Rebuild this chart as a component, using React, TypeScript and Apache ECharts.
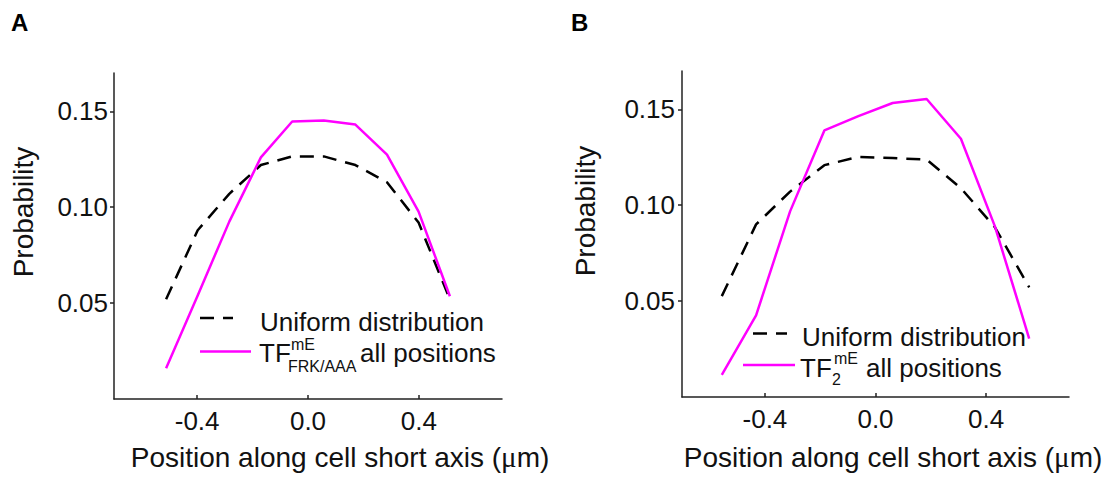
import React, { useEffect, useRef } from "react";
import * as echarts from "echarts";

// Panel A
const positionsA = [-0.512, -0.398, -0.284, -0.17, -0.057, 0.057, 0.171, 0.285, 0.399, 0.512];
const uniformA = [0.052, 0.088, 0.107, 0.122, 0.1265, 0.1265, 0.122, 0.113, 0.092, 0.052];
const tfA = [0.016, 0.054, 0.0925, 0.126, 0.1447, 0.1452, 0.1431, 0.1274, 0.0977, 0.0536];

// Panel B
const positionsB = [-0.556, -0.432, -0.309, -0.185, -0.062, 0.062, 0.185, 0.309, 0.432, 0.556];
const uniformB = [0.0526, 0.09, 0.1071, 0.1209, 0.1252, 0.1246, 0.1238, 0.1089, 0.0885, 0.0572];
const tfB = [0.0116, 0.0426, 0.0968, 0.139, 0.1465, 0.1533, 0.1554, 0.1347, 0.089, 0.0305];

const xTicks = [-0.4, 0, 0.4];
const yTicks = [0.05, 0.1, 0.15];

const FONT = "'Liberation Sans', Arial, Helvetica, sans-serif";
const MAGENTA = "#ff00ff";
const AXIS = "#222";
const TEXT = "#111";
const DASH = [14, 9];

const pairs = (xs: number[], ys: number[]) => xs.map((x, i) => [x, ys[i]]);

function xAxisFor(gridIndex: number) {
  return {
    type: "value",
    gridIndex,
    min: -0.7,
    max: 0.7,
    axisLine: { onZero: false, lineStyle: { color: AXIS, width: 1.5 } },
    axisTick: { inside: true, length: 4, customValues: xTicks, lineStyle: { color: AXIS, width: 1.5 } },
    axisLabel: {
      customValues: xTicks,
      formatter: (v: number) => v.toFixed(1),
      fontSize: 26,
      color: TEXT,
      fontFamily: FONT,
      margin: 9,
    },
    splitLine: { show: false },
  };
}

function yAxisFor(gridIndex: number, margin: number) {
  return {
    type: "value",
    gridIndex,
    min: 0,
    max: 0.17,
    axisLine: { show: true, onZero: false, lineStyle: { color: AXIS, width: 1.5 } },
    axisTick: { show: true, inside: false, length: 4, customValues: yTicks, lineStyle: { color: AXIS, width: 1.5 } },
    axisLabel: {
      customValues: yTicks,
      formatter: (v: number) => v.toFixed(2),
      fontSize: 26,
      color: TEXT,
      fontFamily: FONT,
      margin,
    },
    splitLine: { show: false },
  };
}

function txt(x: number, y: number, text: string, size: number, extra: any = {}) {
  return {
    type: "text",
    x,
    y,
    silent: true,
    style: {
      text,
      fontSize: size,
      fontFamily: FONT,
      fill: TEXT,
      align: "left",
      verticalAlign: "middle",
      ...extra,
    },
  };
}

function hline(x1: number, x2: number, y: number, color: string, dash?: number[]) {
  return {
    type: "line",
    silent: true,
    shape: { x1, y1: y, x2, y2: y },
    style: { stroke: color, lineWidth: 2.5, lineDash: dash || null },
  };
}

function xTitle(cx: number, cy: number) {
  return {
    type: "text",
    x: cx,
    y: cy,
    silent: true,
    style: {
      text: "{a|Position along cell short axis (}{m|\u03BC}{a|m)}",
      align: "center",
      verticalAlign: "middle",
      rich: {
        a: { fontSize: 28, fontFamily: FONT, fill: TEXT },
        m: { fontSize: 29, fontFamily: "'Liberation Serif', 'DejaVu Serif', serif", fill: TEXT },
      },
    },
  };
}

function yTitle(cx: number, cy: number) {
  return {
    type: "text",
    x: cx,
    y: cy,
    rotation: Math.PI / 2,
    silent: true,
    style: {
      text: "Probability",
      fontSize: 28,
      fontFamily: FONT,
      fill: TEXT,
      align: "center",
      verticalAlign: "middle",
    },
  };
}

export default function App() {
  const ref = useRef<HTMLDivElement>(null);

  useEffect(() => {
    if (!ref.current) return;
    const chart = echarts.init(ref.current, null, { renderer: "svg" });
    const option: any = {
      animation: false,
      backgroundColor: "#ffffff",
      grid: [
        { left: 114, top: 73, width: 388, height: 326 },
        { left: 682, top: 71, width: 387, height: 326 },
      ],
      xAxis: [xAxisFor(0), xAxisFor(1)],
      yAxis: [yAxisFor(0, 6), yAxisFor(1, 7)],
      series: [
        {
          name: "Uniform distribution A",
          type: "line",
          xAxisIndex: 0,
          yAxisIndex: 0,
          data: pairs(positionsA, uniformA),
          symbol: "none",
          lineStyle: { color: "#000", width: 2.5, type: DASH },
          z: 2,
        },
        {
          name: "TF FRK/AAA all positions",
          type: "line",
          xAxisIndex: 0,
          yAxisIndex: 0,
          data: pairs(positionsA, tfA),
          symbol: "none",
          lineStyle: { color: MAGENTA, width: 2.5 },
          z: 3,
        },
        {
          name: "Uniform distribution B",
          type: "line",
          xAxisIndex: 1,
          yAxisIndex: 1,
          data: pairs(positionsB, uniformB),
          symbol: "none",
          lineStyle: { color: "#000", width: 2.5, type: DASH },
          z: 2,
        },
        {
          name: "TF2 all positions",
          type: "line",
          xAxisIndex: 1,
          yAxisIndex: 1,
          data: pairs(positionsB, tfB),
          symbol: "none",
          lineStyle: { color: MAGENTA, width: 2.5 },
          z: 3,
        },
      ],
      graphic: [
        // panel letters
        txt(11, 22, "A", 24, { fontWeight: "bold", fill: "#000" }),
        txt(571, 22, "B", 24, { fontWeight: "bold", fill: "#000" }),
        // axis titles
        yTitle(23, 212),
        yTitle(585, 211),
        xTitle(340, 457),
        xTitle(893, 457),
        // legend A
        hline(200, 233, 318, "#000", DASH),
        txt(260, 321.5, "Uniform distribution", 26),
        hline(200, 251, 351.5, MAGENTA),
        txt(259, 352.5, "TF", 26),
        txt(291, 344.5, "mE", 16),
        txt(288, 366.5, "FRK/AAA", 16),
        txt(360, 352.5, "all positions", 26),
        // legend B
        hline(753, 787, 333.5, "#000", DASH),
        txt(802, 336.5, "Uniform distribution", 26),
        hline(743, 795, 365, MAGENTA),
        txt(800, 367.5, "TF", 26),
        txt(834, 358, "mE", 16),
        txt(832, 379, "2", 16),
        txt(866, 367.5, "all positions", 26),
      ],
    };
    chart.setOption(option);
    return () => chart.dispose();
  }, []);

  return (
    <div
      ref={ref}
      style={{ position: "absolute", left: 0, top: 0, width: 1110, height: 477, background: "#fff" }}
    />
  );
}
